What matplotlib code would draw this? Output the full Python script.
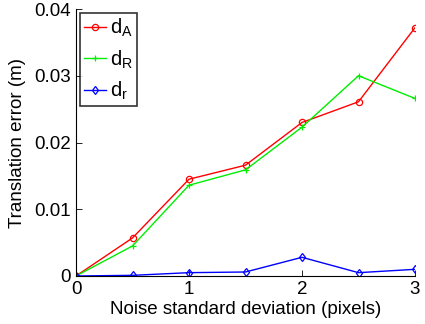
import matplotlib
matplotlib.use("Agg")
import matplotlib.pyplot as plt

noise = [0, 0.5, 1, 1.5, 2, 2.5, 3]
d_A = [0, 0.0057, 0.0145, 0.0166, 0.0230, 0.0261, 0.0372]
d_R = [0, 0.0045, 0.0136, 0.0159, 0.0223, 0.0300, 0.0266]
d_r = [0, 0.0001, 0.0005, 0.0006, 0.0028, 0.0005, 0.0010]
labels = ["d$_\\mathregular{A}$", "d$_\\mathregular{R}$", "d$_\\mathregular{r}$"]

plt.rcParams['font.family'] = ['Liberation Sans', 'DejaVu Sans']
plt.rcParams['mathtext.default'] = 'regular'

fig = plt.figure(figsize=(4.25, 3.24), dpi=100)
ax = fig.add_axes([76/425, (324-276)/324, (415-76)/425, (276-9)/324])

ax.plot(noise, d_A, color='#ff0000', marker='o', mfc='none', ms=4.5, lw=1, mew=0.9, label=labels[0])
ax.plot(noise, d_R, color='#00ee00', marker='+', ms=4.5, lw=1, mew=0.9, label=labels[1])
ax.plot(noise, d_r, color='#0000ff', marker='d', mfc='none', ms=4.5, lw=1, mew=0.9, label=labels[2])

ax.set_xlim(0, 3)
ax.set_ylim(0, 0.04)
ax.set_xticks([0, 1, 2, 3])
ax.set_yticks([0, 0.01, 0.02, 0.03, 0.04])
ax.set_yticklabels(['0', '0.01', '0.02', '0.03', '0.04'])
ax.tick_params(direction='in', labelsize=13.5, length=4, width=0.6)
for s in ['top', 'right']:
    ax.spines[s].set_visible(False)
for s in ['left', 'bottom']:
    ax.spines[s].set_linewidth(0.8)
ax.set_xlabel('Noise standard deviation (pixels)', fontsize=13.5, labelpad=2)
ax.set_ylabel('Translation error (m)', fontsize=13.5, labelpad=6)

leg = ax.legend(loc='upper left', fontsize=14.5, frameon=True, fancybox=False,
                edgecolor='black', handlelength=1.1, borderpad=0.2,
                labelspacing=0.45, handletextpad=0.2, borderaxespad=0.2)
leg.get_frame().set_linewidth(1.2)

fig.savefig('out.png', dpi=100)
